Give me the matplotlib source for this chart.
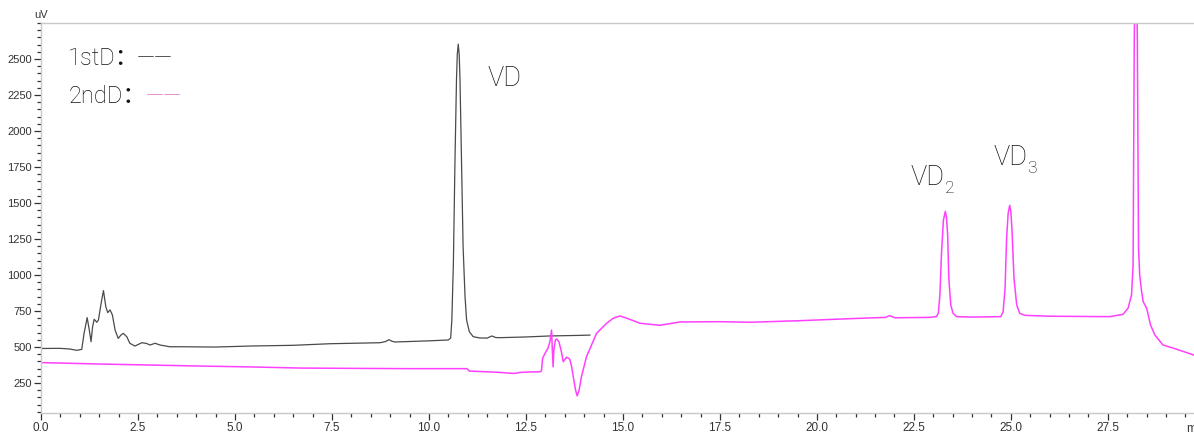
import matplotlib
matplotlib.use("Agg")
import matplotlib.pyplot as plt
from matplotlib.ticker import MultipleLocator

# ---- data ----
t_1st = [0.0, 0.49, 0.75, 0.92, 1.05, 1.11, 1.19, 1.245, 1.29, 1.33, 1.37, 1.44, 1.48,
         1.55, 1.61, 1.67, 1.72, 1.78, 1.84, 1.91, 1.99, 2.06, 2.12, 2.21, 2.29, 2.42,
         2.60, 2.72, 2.81, 2.94, 3.07, 3.32, 3.58, 4.5, 5.39, 6.5, 7.45, 8.74, 8.88,
         8.97, 9.05, 9.12, 10.0, 10.50, 10.56, 10.59, 10.63, 10.67, 10.71, 10.73,
         10.755, 10.78, 10.80, 10.84, 10.88, 10.93, 10.97, 11.04, 11.14, 11.31, 11.5,
         11.62, 11.72, 11.83, 12.5, 13.12, 13.89, 14.15]
uv_1st = [490, 491, 486, 477, 484, 595, 704, 618, 537, 641, 693, 672, 688,
          804, 892, 781, 739, 758, 723, 618, 560, 583, 595, 572, 526, 507,
          530, 525, 514, 526, 514, 502, 502, 500, 507, 512, 523, 530, 538,
          551, 540, 535, 543, 549, 563, 688, 1085, 1781, 2359, 2530,
          2603, 2530, 2359, 1781, 1198, 850, 688, 607, 572, 563, 562,
          577, 566, 565, 570, 577, 581, 583]

t_2nd = [0.0, 1.52, 2.81, 4.10, 5.4, 6.68, 7.96, 9.5, 10.98, 11.04, 11.4, 11.83, 12.1,
         12.22, 12.35, 12.6, 12.86, 12.90, 12.93, 13.0, 13.07, 13.12, 13.16, 13.18,
         13.20, 13.22, 13.26, 13.29, 13.35, 13.42, 13.46, 13.55, 13.63, 13.68, 13.72,
         13.78, 13.82, 13.87, 13.93, 14.06, 14.32, 14.58, 14.75, 14.92, 15.1, 15.44,
         15.95, 16.47, 17.5, 18.27, 19.56, 20.85, 21.78, 21.84, 21.88, 21.93, 22.01,
         22.91, 23.08, 23.13, 23.17, 23.21, 23.26, 23.31, 23.34, 23.37, 23.40, 23.45,
         23.51, 23.60, 24.0, 24.74, 24.80, 24.85, 24.89, 24.93, 24.97, 25.0, 25.03,
         25.08, 25.15, 25.23, 25.36, 26.0, 27.0, 27.55, 27.89, 28.02, 28.11, 28.15,
         28.18, 28.22, 28.26, 28.29, 28.32, 28.37, 28.41, 28.50, 28.60, 28.71, 28.92,
         29.18, 29.72]
uv_2nd = [392, 382, 375, 368, 362, 354, 352, 350, 350, 333, 329, 324, 318,
          317, 324, 327, 328, 335, 423, 460, 493, 540, 618, 480,
          363, 480, 550, 556, 537, 460, 398, 430, 415, 360, 293,
          200, 161, 200, 293, 432, 595, 665, 700, 716, 700, 665,
          651, 674, 676, 672, 683, 697, 706, 715, 718, 712, 703,
          706, 711, 734, 862, 1141, 1380, 1442, 1400, 1280, 978, 792,
          734, 711, 708, 711, 746, 909, 1257, 1430, 1484, 1440, 1304,
          978, 792, 734, 720, 714, 712, 711, 727, 769, 862, 1071,
          2616, 3600, 2616, 1189, 1001, 885, 815, 769, 653, 584, 514,
          493, 444]

x_ticks = [0.0, 2.5, 5.0, 7.5, 10.0, 12.5, 15.0, 17.5, 20.0, 22.5, 25.0, 27.5]
y_ticks = [250, 500, 750, 1000, 1250, 1500, 1750, 2000, 2250, 2500]

series_labels = [("1stD：", 0.70, 2458, 2.48, "#222222"),
                 ("2ndD：", 0.70, 2194, 2.69, "#e070c8")]
peak_labels = [("VD", None, 11.51, 2312), ("VD", "2", 22.42, 1625), ("VD", "3", 24.54, 1764)]

assert len(t_1st) == len(uv_1st) and len(t_2nd) == len(uv_2nd)

# ---- figure ----
W, H = 1194, 433
fig = plt.figure(figsize=(W / 100, H / 100), dpi=100)
ax = fig.add_axes([41 / W, 1 - 413 / H, 1 - 41 / W, (413 - 23) / H])

ax.plot(t_1st, uv_1st, color="#4a4a4a", lw=0.9, solid_joinstyle="round")
ax.plot(t_2nd, uv_2nd, color="#ff40ff", lw=1.1, solid_joinstyle="round")

ax.set_xlim(0, 29.72)
ax.set_ylim(42, 2750)
ax.set_xticks(x_ticks)
ax.set_xticklabels([f"{v:.1f}" for v in x_ticks])
ax.set_yticks(y_ticks)
ax.set_yticklabels([str(v) for v in y_ticks])
ax.xaxis.set_minor_locator(MultipleLocator(0.5))
ax.yaxis.set_minor_locator(MultipleLocator(50))

tick_fam = ["Liberation Sans", "DejaVu Sans"]
for lab in ax.get_xticklabels():
    lab.set_fontfamily(tick_fam)
    lab.set_fontsize(8.5)
    lab.set_color("#333333")
for lab in ax.get_yticklabels():
    lab.set_fontfamily(tick_fam)
    lab.set_fontsize(8)
    lab.set_color("#333333")

ax.tick_params(axis="both", which="major", direction="out", length=5, width=0.9,
               color="#333333", pad=1.5)
ax.tick_params(axis="both", which="minor", direction="out", length=3, width=0.9,
               color="#333333")

for side in ("left", "bottom", "top"):
    ax.spines[side].set_color("#c8c8c8")
    ax.spines[side].set_linewidth(1.0)
ax.spines["right"].set_visible(False)

ax.annotate("uV", xy=(0, 1), xycoords="axes fraction", xytext=(0, 2),
            textcoords="offset points", ha="center", va="bottom",
            fontsize=8, family=tick_fam, color="#333333")
ax.text(29.53, -30, "min", ha="left", va="top", fontsize=8.5,
        family=tick_fam, color="#333333", clip_on=False)

big_font = ["Roboto", "Noto Sans CJK SC", "DejaVu Sans"]
txt_col = "#111111"

# series labels with their line-style dashes
for lab, lx, ly, dx, dcol in series_labels:
    ax.text(lx, ly, lab, fontsize=17, family=big_font, fontweight="light",
            color=txt_col, ha="left", va="baseline")
    ax.text(dx, ly, "——", fontsize=17, family=big_font, fontweight="light",
            color=dcol, ha="left", va="baseline")

# peak labels
for main, sub, xx, yy in peak_labels:
    t = ax.text(xx, yy, main, fontsize=19.5, family=big_font, fontweight="light",
                color=txt_col, ha="left", va="baseline")
    if sub:
        ax.annotate(sub, xy=(1, 0), xycoords=t, xytext=(0, -1.5),
                    textcoords="offset points", ha="left", va="baseline",
                    fontsize=12.5, family=big_font, fontweight="light", color=txt_col)

fig.savefig("out.png", dpi=100)
